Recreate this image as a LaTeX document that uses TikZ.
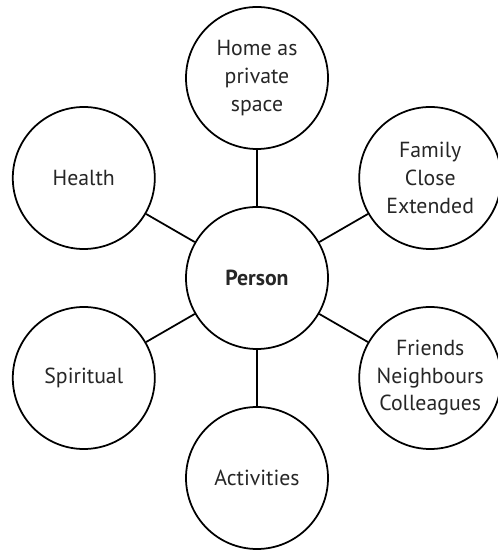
\documentclass[tikz,border=0pt]{standalone}
\usepackage{fontspec}
\setmainfont{PT Sans}
\usetikzlibrary{backgrounds}
\pgfdeclarelayer{edgelayer}
\pgfdeclarelayer{nodelayer}
\pgfsetlayers{edgelayer,nodelayer,main}
\tikzset{font=\fontsize{12.4}{15.7}\selectfont}
\tikzstyle{none}=[inner sep=0pt]
\tikzstyle{bubble}=[circle,draw,fill=white,line width=1pt,minimum size=2.84cm,inner sep=0pt,align=center,text=black!85]
\tikzstyle{spoke}=[line width=1pt]

\begin{document}
\begin{tikzpicture}
	\useasboundingbox (-5.14, -5.48) rectangle (4.80, 5.56);
	\begin{pgfonlayer}{nodelayer}
		\node [style=bubble] (0) at (0, 0) {\textbf{Person}};
		\node [style=bubble] (1) at (90:4) {Home as\\private\\space};
		\node [style=bubble] (2) at (30:4) {Family\\Close\\Extended};
		\node [style=bubble] (3) at (-30:4) {Friends\\Neighbours\\Colleagues};
		\node [style=bubble] (4) at (-90:4) {Activities};
		\node [style=bubble] (5) at (210:4) {Spiritual};
		\node [style=bubble] (6) at (150:4) {Health};
	\end{pgfonlayer}
	\begin{pgfonlayer}{edgelayer}
		\draw[style=spoke] (0) to (1);
		\draw[style=spoke] (0) to (2);
		\draw[style=spoke] (0) to (3);
		\draw[style=spoke] (0) to (4);
		\draw[style=spoke] (0) to (5);
		\draw[style=spoke] (0) to (6);
	\end{pgfonlayer}
\end{tikzpicture}
\end{document}
